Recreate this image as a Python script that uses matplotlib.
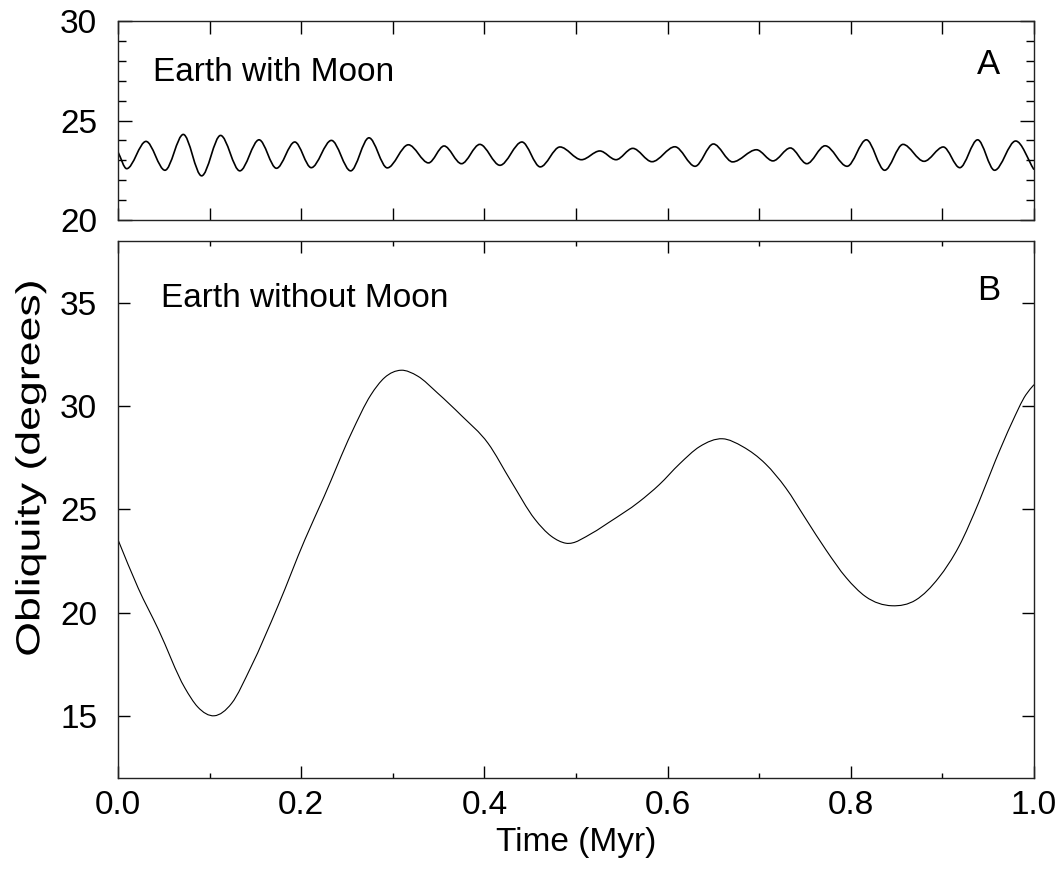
import numpy as np
import matplotlib
matplotlib.use("Agg")
import matplotlib.pyplot as plt
from matplotlib.path import Path
from matplotlib.patches import PathPatch
from matplotlib.ticker import MultipleLocator
from matplotlib.transforms import Affine2D
import matplotlib.patheffects as pe

plt.rcParams['font.family'] = ['Liberation Sans', 'DejaVu Sans']

# ---- data ----
# Panel A: Earth with Moon (obliquity, degrees), extrema of the oscillation
time_a = [0.0, 0.0095, 0.0306, 0.0513, 0.0713, 0.0913, 0.112, 0.133, 0.154, 0.173,
          0.193, 0.211, 0.233, 0.254, 0.274, 0.294, 0.317, 0.339, 0.356, 0.375,
          0.395, 0.417, 0.441, 0.461, 0.4825, 0.506, 0.526, 0.5437, 0.562, 0.583,
          0.608, 0.630, 0.650, 0.671, 0.697, 0.715, 0.734, 0.752, 0.772, 0.796,
          0.817, 0.837, 0.857, 0.880, 0.901, 0.919, 0.9385, 0.957, 0.980, 1.0]
obliq_a = [23.42, 22.58, 23.95, 22.50, 24.30, 22.22, 24.25, 22.47, 24.03, 22.60,
           23.92, 22.63, 24.00, 22.47, 24.13, 22.62, 23.78, 22.87, 23.72, 22.83,
           23.80, 22.75, 23.92, 22.67, 23.67, 23.03, 23.47, 23.03, 23.60, 22.93,
           23.68, 22.70, 23.82, 22.92, 23.53, 22.97, 23.62, 22.83, 23.73, 22.70,
           24.03, 22.50, 23.80, 22.95, 23.67, 22.63, 24.03, 22.50, 23.97, 22.53]

# Panel B: Earth without Moon
time_b = [0.0, 0.022, 0.044, 0.073, 0.087, 0.105, 0.124, 0.145, 0.175, 0.204,
          0.225, 0.255, 0.276, 0.291, 0.309, 0.327, 0.349, 0.375, 0.404, 0.429,
          0.455, 0.473, 0.489, 0.518, 0.536, 0.569, 0.591, 0.613, 0.635, 0.660,
          0.682, 0.707, 0.729, 0.751, 0.773, 0.795, 0.816, 0.845, 0.871, 0.896,
          0.918, 0.940, 0.958, 0.976, 0.991, 1.0]
obliq_b = [23.53, 21.19, 19.19, 16.35, 15.43, 15.00, 15.60, 17.35, 20.36, 23.53,
           25.62, 28.71, 30.54, 31.38, 31.74, 31.46, 30.63, 29.54, 28.20, 26.37,
           24.53, 23.70, 23.36, 23.86, 24.37, 25.37, 26.20, 27.20, 28.04, 28.42,
           28.04, 27.20, 26.04, 24.53, 23.03, 21.69, 20.78, 20.33, 20.61, 21.69,
           23.20, 25.37, 27.37, 29.21, 30.54, 31.04]

xticks = [0.0, 0.2, 0.4, 0.6, 0.8, 1.0]
xtick_labels = ['0.0', '0.2', '0.4', '0.6', '0.8', '1.0']
yticks_a = [20, 25, 30]
yticks_b = [15, 20, 25, 30, 35]
label_a, tag_a = 'Earth with Moon', 'A'
label_b, tag_b = 'Earth without Moon', 'B'


def smooth_path(x, y, monotone):
    """Smooth Bezier path drawn through the read points."""
    x = np.asarray(x, float); y = np.asarray(y, float)
    h = np.diff(x); d = np.diff(y) / h
    n = len(x)
    m = np.zeros(n)
    for i in range(1, n - 1):
        if monotone:
            if d[i - 1] * d[i] > 0:
                w1 = 2 * h[i] + h[i - 1]
                w2 = h[i] + 2 * h[i - 1]
                m[i] = (w1 + w2) / (w1 / d[i - 1] + w2 / d[i])
        else:
            m[i] = (d[i - 1] * h[i] + d[i] * h[i - 1]) / (h[i] + h[i - 1])
    m[0] = d[0]; m[-1] = d[-1]
    verts = [(x[0], y[0])]
    codes = [Path.MOVETO]
    for i in range(n - 1):
        hh = h[i]
        verts += [(x[i] + hh / 3, y[i] + m[i] * hh / 3),
                  (x[i + 1] - hh / 3, y[i + 1] - m[i + 1] * hh / 3),
                  (x[i + 1], y[i + 1])]
        codes += [Path.CURVE4] * 3
    return Path(verts, codes)


class Stretch(pe.AbstractPathEffect):
    """Stretch rendered text about a fixed figure point."""
    def __init__(self, fig, center, sx, sy):
        super().__init__()
        self.fig, self.center, self.sx, self.sy = fig, center, sx, sy

    def draw_path(self, renderer, gc, tpath, affine, rgbFace=None):
        cx, cy = self.fig.transFigure.transform(self.center)
        t = affine + Affine2D().translate(-cx, -cy).scale(self.sx, self.sy).translate(cx, cy)
        renderer.draw_path(gc, tpath, t, rgbFace)


fig = plt.figure(figsize=(10.63, 8.71), dpi=100)
ax_a = fig.add_axes([0.111, 0.7474, 0.8617, 0.2285])
ax_b = fig.add_axes([0.111, 0.1071, 0.8617, 0.6162])

for ax in (ax_a, ax_b):
    for s in ax.spines.values():
        s.set_linewidth(1.0)
        s.set_color('#222222')
    ax.set_xlim(0, 1)

# Panel A
ax_a.add_patch(PathPatch(smooth_path(time_a, obliq_a, True), facecolor='none',
                         edgecolor='black', lw=1.2))
ax_a.set_ylim(20, 30)
ax_a.set_yticks(yticks_a)
ax_a.yaxis.set_minor_locator(MultipleLocator(1))
ax_a.xaxis.set_major_locator(MultipleLocator(0.1))
ax_a.tick_params(axis='x', which='major', direction='in', top=True, bottom=True,
                 length=9, width=1.0, labelbottom=False)
ax_a.tick_params(axis='y', which='major', direction='in', left=True, right=True,
                 length=10, width=1.0, labelsize=24, pad=15)
ax_a.tick_params(axis='y', which='minor', direction='in', left=True, right=True,
                 length=5.8, width=1.0)
ax_a.text(0.038, 27.0, label_a, fontsize=24, ha='left', va='baseline')
ax_a.text(0.938, 27.35, tag_a, fontsize=25, ha='left', va='baseline')

# Panel B
ax_b.add_patch(PathPatch(smooth_path(time_b, obliq_b, False), facecolor='none',
                         edgecolor='black', lw=0.8))
ax_b.set_ylim(12, 38)
ax_b.set_yticks(yticks_b)
ax_b.set_xticks(xticks)
ax_b.set_xticklabels(xtick_labels)
ax_b.xaxis.set_minor_locator(MultipleLocator(0.1))
ax_b.tick_params(axis='x', which='major', direction='in', top=True, bottom=True,
                 length=8.6, width=1.0, labelsize=24, pad=9)
ax_b.tick_params(axis='x', which='minor', direction='in', top=True, bottom=True,
                 length=3.6, width=1.0)
ax_b.tick_params(axis='y', which='major', direction='in', left=True, right=True,
                 length=8.6, width=1.0, labelsize=24, pad=15)
ax_b.text(0.047, 34.8, label_b, fontsize=24, ha='left', va='baseline')
ax_b.text(0.938, 35.13, tag_b, fontsize=25, ha='left', va='baseline')

ax_b.set_xlabel('Time (Myr)', fontsize=24, labelpad=4)
ylab_pos = (0.029, 0.4627)
fig.text(ylab_pos[0], ylab_pos[1], 'Obliquity (degrees)', rotation=90, fontsize=24,
         ha='center', va='center',
         path_effects=[Stretch(fig, ylab_pos, 1.0, 1.34)])

fig.savefig('out.png', dpi=100)
